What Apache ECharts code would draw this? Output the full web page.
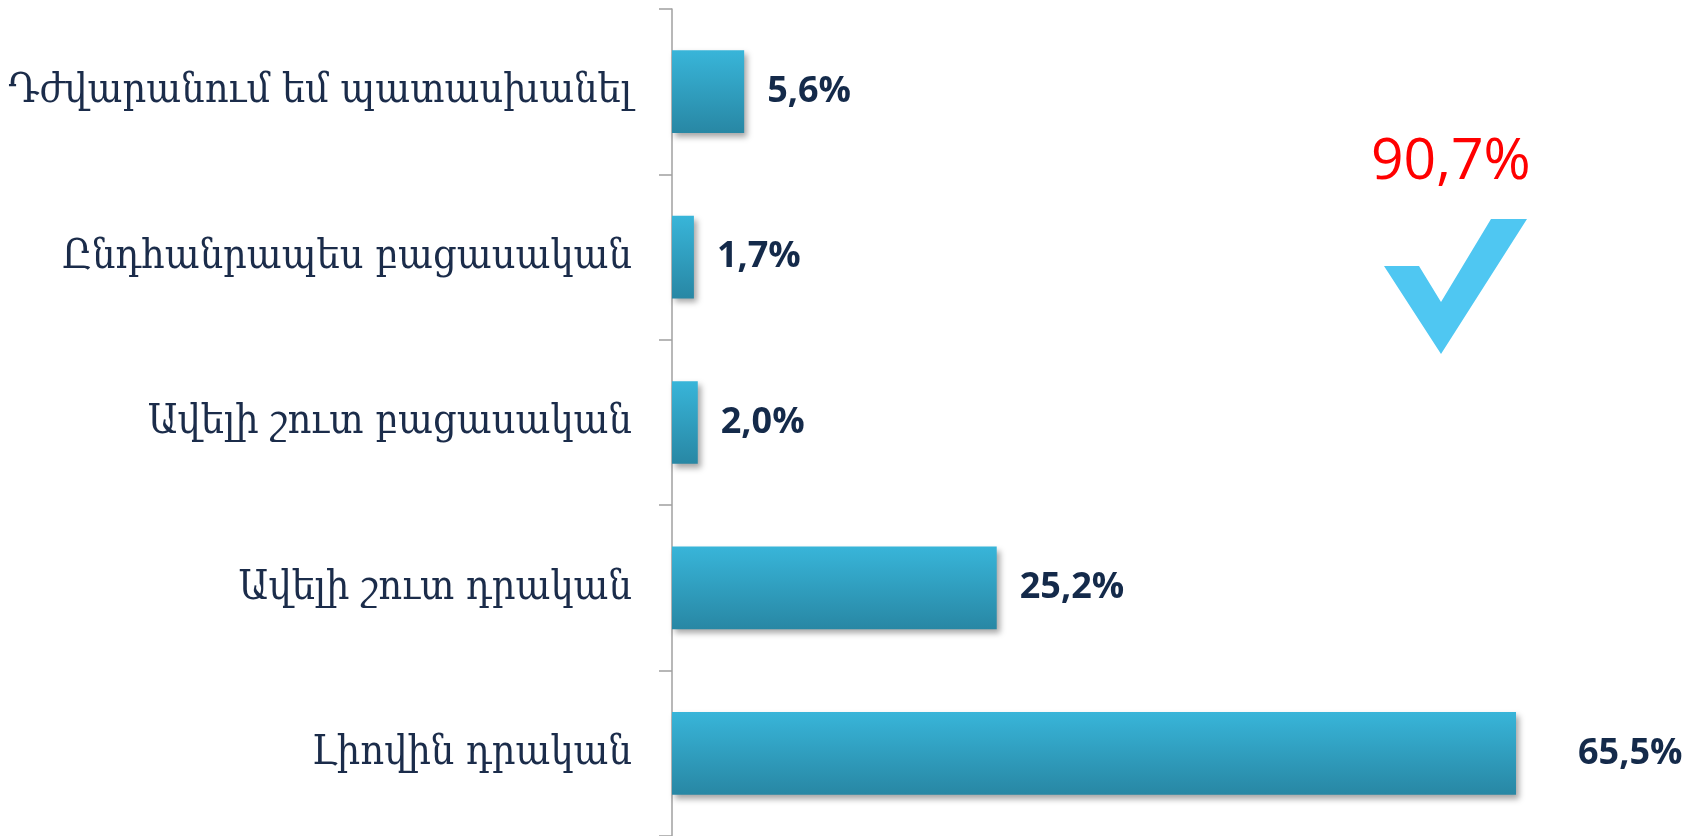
<!DOCTYPE html>
<html>
<head>
<meta charset="utf-8">
<script src="https://cdn.jsdelivr.net/npm/echarts@6/dist/echarts.min.js"></script>
<style>
  html, body { margin: 0; padding: 0; background: #fff; }
  #chart { width: 1700px; height: 836px; }
</style>
</head>
<body>
<div id="chart"></div>
<script>
// categories from bottom to top (category yAxis starts at the bottom)
var categories = [
  'Լիովին դրական',
  'Ավելի շուտ դրական',
  'Ավելի շուտ բացասական',
  'Ընդհանրապես բացասական',
  'Դժվարանում եմ պատասխանել'
];
var values = [65.5, 25.2, 2.0, 1.7, 5.6];
var totalPositive = '90,7%';

var chartDom = document.getElementById('chart');
var myChart = echarts.init(chartDom);

function fmt(v) {
  return v.toFixed(1).replace('.', ',') + '%';
}

var barData = values.map(function (v, i) {
  var item = { value: v };
  // the biggest bar's label sits further out
  if (i === 0) {
    item.label = { distance: 62 };
  }
  return item;
});

var option = {
  animation: false,
  grid: {
    left: 672,
    right: 126,
    top: 9,
    bottom: 0,
    containLabel: false
  },
  xAxis: {
    type: 'value',
    min: 0,
    max: 70,
    show: false
  },
  yAxis: {
    type: 'category',
    data: categories,
    axisLine: {
      show: true,
      lineStyle: { color: '#a0a0a0', width: 1.5 }
    },
    axisTick: {
      show: true,
      length: 13,
      lineStyle: { color: '#a0a0a0', width: 1.5 }
    },
    axisLabel: {
      margin: 40,
      fontFamily: '"DejaVu Serif Condensed", "DejaVu Serif", serif',
      fontSize: 41,
      color: '#1b2c4a'
    }
  },
  series: [
    {
      type: 'bar',
      data: barData,
      barWidth: '50%',
      itemStyle: {
        color: new echarts.graphic.LinearGradient(0, 0, 0, 1, [
          { offset: 0, color: '#38b5d9' },
          { offset: 1, color: '#2887a4' }
        ]),
        shadowColor: 'rgba(0,0,0,0.35)',
        shadowBlur: 6,
        shadowOffsetX: 3,
        shadowOffsetY: 4
      },
      label: {
        show: true,
        position: 'right',
        distance: 23,
        fontFamily: '"Open Sans", sans-serif',
        fontWeight: 'bold',
        fontSize: 36,
        color: '#142a4a',
        formatter: function (p) { return fmt(p.value); }
      }
    }
  ],
  graphic: [
    {
      type: 'text',
      left: 1371,
      top: 134,
      style: {
        text: totalPositive,
        fontFamily: '"Open Sans", sans-serif',
        fontSize: 57,
        fill: '#ff0000'
      }
    },
    {
      type: 'polygon',
      shape: {
        points: [[1384, 266], [1419, 266], [1441, 302], [1491, 219], [1527, 219], [1441, 354]]
      },
      style: { fill: '#4fc7f2' }
    }
  ]
};

myChart.setOption(option);
window.addEventListener('resize', function () {
  myChart.resize();
});
</script>
</body>
</html>
